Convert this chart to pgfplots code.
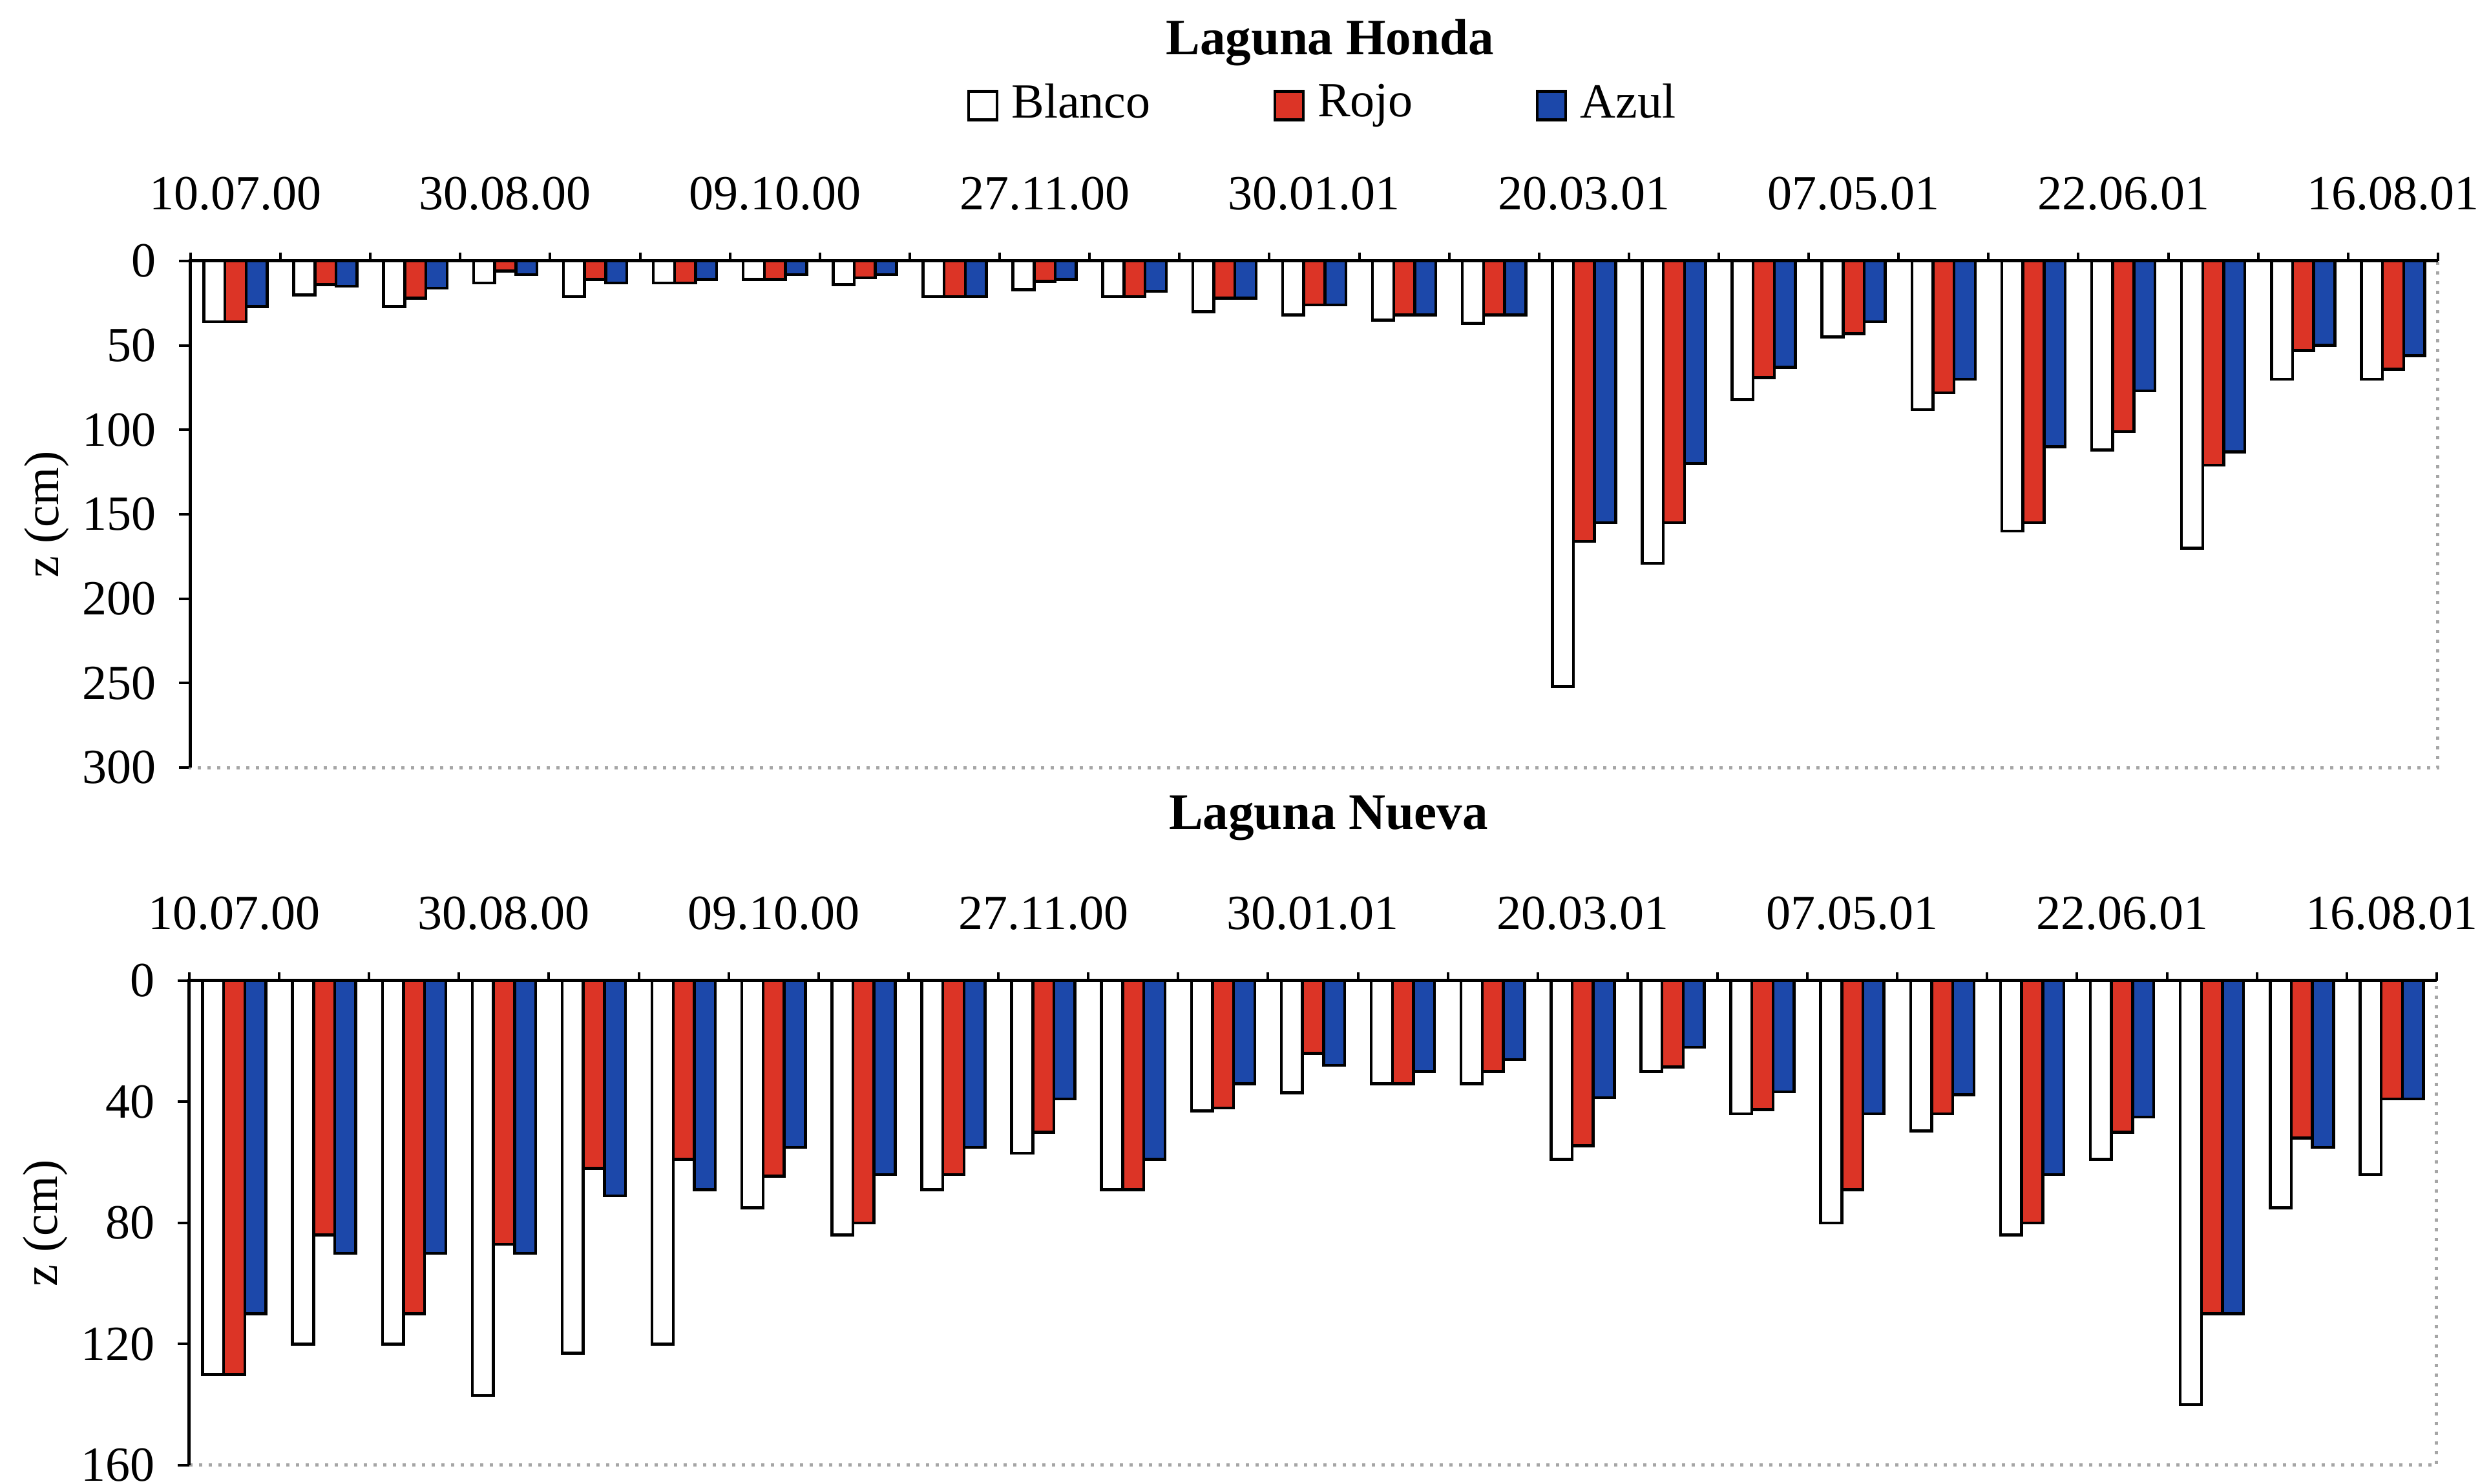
\documentclass[border=0pt]{standalone}
\usepackage{fontspec}
\setmainfont{Liberation Serif}
\usepackage{pgfplots}
\usepackage{pgfplotstable}
\pgfplotsset{compat=1.18}
\definecolor{rojo}{RGB}{220,52,38}
\definecolor{azul}{RGB}{28,72,170}
\newcommand{\tf}{\fontsize{7.6pt}{9pt}\selectfont}

\pgfplotstableread{
g W R A
1 36 36 27
2 20 14 15
3 27 22 16
4 13 6 8
5 21 11 13
6 13 13 11
7 11 11 8
8 14 10 8
9 21 21 21
10 17 12 11
11 21 21 18
12 30 22 22
13 32 26 26
14 35 32 32
15 37 32 32
16 252 166 155
17 179 155 120
18 82 69 63
19 45 43 36
20 88 78 70
21 160 155 110
22 112 101 77
23 170 121 113
24 70 53 50
25 70 64 56
}\honda

\pgfplotstableread{
g W R A
1 130 130 110
2 120 84 90
3 120 110 90
4 137 87 90
5 123 62 71
6 120 59 69
7 75 64.5 55
8 84 80 64
9 69 64 55
10 57 50 39
11 69 69 59
12 43 42 34
13 37 24 28
14 34 34 30
15 34 30 26
16 59 54.5 38.6
17 30 28.5 22
18 44 42.6 36.7
19 80 69 44
20 49.6 44 37.7
21 84 80 64
22 59 50 45
23 140 110 110
24 75 52 55
25 64 39 39
}\nueva

\pgfplotsset{
  lag/.style={
    scale only axis, width=347.8pt,
    xmin=0.5, xmax=25.5,
    y dir=reverse, ymin=0,
    ybar=0pt, bar width=0.235,
    xtick={1,4,...,25},
    xticklabels={10.07.00,30.08.00,09.10.00,27.11.00,30.01.01,20.03.01,07.05.01,22.06.01,16.08.01},
    minor xtick={0.5,1.5,...,25.5},
    major x tick style={draw=none},
    minor tick length=1.3pt,
    major tick length=1.8pt,
    tick align=outside,
    xtick pos=upper, xticklabel pos=upper,
    ytick pos=left,
    tick style={black, solid, line width=0.4pt},
    axis line style={draw=gray!70, densely dotted, line width=0.5pt},
    /pgf/number format/assume math mode=true,
    tick label style={font=\tf},
    xticklabel style={yshift=2.5pt},
    ylabel={z (cm)},
    ylabel style={font=\tf, at={(axis description cs:-0.064,0.5)}, anchor=center},
    clip=false,
    every axis plot/.append style={draw=black, line width=0.45pt},
  }
}

\begin{document}
\begin{tikzpicture}
\path[use as bounding box] (0,0) rectangle (383.8pt,-229.7pt);

\begin{axis}[lag, height=78.4pt, at={(29.5pt,-40.4pt)}, anchor=north west,
  ymax=300, ytick={0,50,...,300},
  legend columns=3,
  legend style={draw=none, fill=none, font=\tf, inner sep=0pt,
    at={(0.345,1.307)}, anchor=west,
    /tikz/every even column/.append style={column sep=17pt}},
  legend image code/.code={\draw[#1,/tikz/.cd,sharp plot] (0pt,-2.2pt) rectangle (4.4pt,2.2pt);},
]
\addplot[fill=white, bar shift=-0.235] table[x=g,y=W] {\honda};
\addplot[fill=rojo, bar shift=0] table[x=g,y=R] {\honda};
\addplot[fill=azul, bar shift=0.235] table[x=g,y=A] {\honda};
\legend{Blanco,Rojo,Azul}
\draw[black, line width=0.5pt, solid] (axis cs:0.5,300) -- (axis cs:0.5,0) -- (axis cs:25.5,0);
\end{axis}

\begin{axis}[lag, height=75pt, at={(29.3pt,-151.8pt)}, anchor=north west,
  ymax=160, ytick={0,40,...,160},
]
\addplot[fill=white, bar shift=-0.235] table[x=g,y=W] {\nueva};
\addplot[fill=rojo, bar shift=0] table[x=g,y=R] {\nueva};
\addplot[fill=azul, bar shift=0.235] table[x=g,y=A] {\nueva};
\draw[black, line width=0.5pt, solid] (axis cs:0.5,160) -- (axis cs:0.5,0) -- (axis cs:25.5,0);
\end{axis}

\node[font=\fontsize{7.9pt}{9pt}\selectfont\bfseries, anchor=base] at (205.8pt,-8.5pt) {Laguna Honda};
\node[font=\fontsize{7.9pt}{9pt}\selectfont\bfseries, anchor=base] at (205.6pt,-128.4pt) {Laguna Nueva};
\end{tikzpicture}
\end{document}
